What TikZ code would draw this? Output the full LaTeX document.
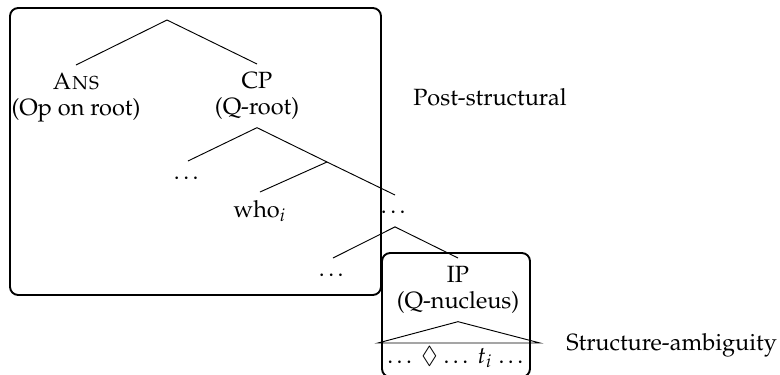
\documentclass[tikz,border=0pt]{standalone}
\usepackage[T1]{fontenc}
\usepackage{mathpazo}
\usepackage{amssymb}

\begin{document}
\begin{tikzpicture}%
        [x=0.4255pt, y=-0.4255pt,
        branch/.style={thin},
        group/.style={thick, rounded corners=3.5pt},
        cat/.style={anchor=north, align=center, font=\fontsize{10}{11}\selectfont},
        gap/.style={cat, text height=4.5pt, text depth=2pt},
        side/.style={anchor=west}]

    \useasboundingbox (0,0) rectangle (780,375);
    %% Drawing the groups
    \draw[group] (10,8) rectangle (381,295);
    \draw[group] (382,253) rectangle (530,377);
    %%
    %% Drawing the nodes
    %%
    \coordinate (root) at (167,20);
    \node[cat] (ans) at (76,65) {\textsc{Ans}\\(Op on root)};
    \node[cat] (cp) at (257,64) {CP\\(Q-root)};
    \coordinate (cbar) at (327,162);
    \node[gap] (specdots) at (188,161) {\ldots};
    \node[cat] (who) at (260,192) {who$_i$};
    \node[gap] (cdots) at (395,195) {\ldots};
    \node[gap] (lowdots) at (333,258) {\ldots};
    \node[cat] (ip) at (458,258) {IP\\(Q-nucleus)};
    \coordinate (triL) at (378,343);
    \coordinate (triR) at (540,343);
    \node[cat, anchor=base] (yield) at (457,363) {\ldots\ $\Diamond$\ \ldots\ $t_i$\ \ldots};
    %%
    %% Drawing the branches
    %%
    \draw[branch] (root) -- (ans.north);
    \draw[branch] (root) -- (cp.north);
    \draw[branch] (cp.south) -- (specdots.north);
    \draw[branch] (cp.south) -- (cbar) -- (cdots.north);
    \draw[branch] (cbar) -- (who.north);
    \draw[branch] (cdots.south) -- (lowdots.north);
    \draw[branch] (cdots.south) -- (ip.north);
    \draw[branch] (triL) -- (ip.south) -- (triR) -- cycle;
    %%
    %% Labels of the groups
    %%
    \node[side] (post) at (405,97) {Post-structural};
    \node[side] (amb) at (558,345) {Structure-ambiguity};
\end{tikzpicture}
\end{document}
